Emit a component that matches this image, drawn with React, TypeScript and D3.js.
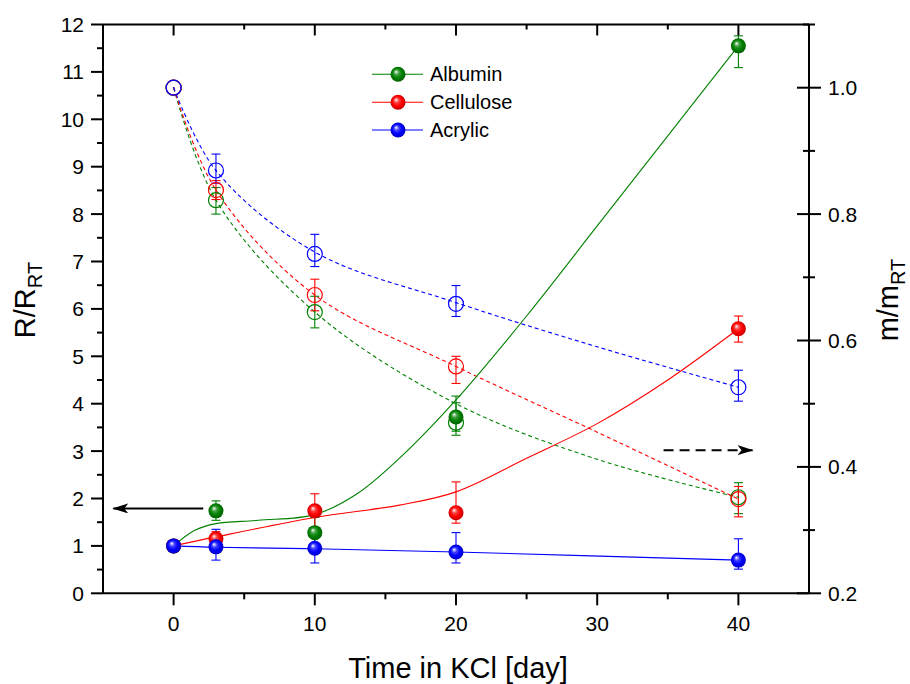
import React from "react";
import * as d3 from "d3";

// ---------- data ----------
const days = [0, 3, 10, 20, 40];
const seriesNames = ["Albumin", "Cellulose", "Acrylic"];
const seriesColors = ["#008000", "#ff0000", "#0000ff"];

// R/R_RT (left axis, filled spheres)
const albuminR = [1.0, 1.74, 1.28, 3.72, 11.55];
const albuminRLo = [0, 0.2, 0.32, 0.3, 0.46];
const albuminRHi = [0, 0.21, 0.32, 0.3, 0.21];
const celluloseR = [1.0, 1.15, 1.74, 1.7, 5.58];
const celluloseRLo = [0, 0.15, 0.36, 0.22, 0.28];
const celluloseRHi = [0, 0.15, 0.36, 0.65, 0.27];
const acrylicR = [1.0, 0.98, 0.95, 0.87, 0.7];
const acrylicRLo = [0, 0.28, 0.31, 0.23, 0.19];
const acrylicRHi = [0, 0.37, 0.35, 0.41, 0.45];

// m/m_RT (right axis, open circles)
const albuminM = [1.0, 0.822, 0.645, 0.47, 0.352];
const albuminMLo = [0, 0.022, 0.025, 0.02, 0.026];
const albuminMHi = [0, 0.02, 0.025, 0.042, 0.023];
const celluloseM = [1.0, 0.838, 0.672, 0.559, 0.349];
const celluloseMLo = [0, 0.015, 0.025, 0.027, 0.028];
const celluloseMHi = [0, 0.015, 0.025, 0.016, 0.02];
const acrylicM = [1.0, 0.869, 0.737, 0.658, 0.526];
const acrylicMLo = [0, 0.02, 0.02, 0.02, 0.022];
const acrylicMHi = [0, 0.026, 0.031, 0.029, 0.027];

// fitted curves: [day, value]
const albuminRFit: [number, number][] = [[0, 1.0], [1.5, 1.33], [3, 1.47], [6, 1.54], [10, 1.66], [13, 2.1], [16, 2.85], [20, 4.08], [25, 5.85], [30, 7.75], [35, 9.65], [40, 11.55]];
const celluloseRFit: [number, number][] = [[0, 1.0], [3, 1.19], [10, 1.6], [16, 1.86], [20, 2.14], [25, 2.85], [30, 3.58], [35, 4.5], [40, 5.58]];
const acrylicRFit: [number, number][] = [[0, 1.0], [3, 0.97], [10, 0.94], [20, 0.87], [40, 0.7]];
const albuminMFit: [number, number][] = [[0, 1.0], [3, 0.822], [10, 0.645], [20, 0.5], [30, 0.412], [40, 0.352]];
const celluloseMFit: [number, number][] = [[0, 1.0], [3, 0.838], [10, 0.672], [20, 0.559], [30, 0.455], [40, 0.349]];
const acrylicMFit: [number, number][] = [[0, 1.0], [3, 0.869], [10, 0.74], [20, 0.66], [30, 0.59], [40, 0.526]];

const xTicks = [0, 10, 20, 30, 40];
const xMinorTicks = [5, 15, 25, 35];
const yLeftTicks = [0, 1, 2, 3, 4, 5, 6, 7, 8, 9, 10, 11, 12];
const yRightTicks = [0.2, 0.4, 0.6, 0.8, 1.0];
const yRightMinor = [0.3, 0.5, 0.7, 0.9, 1.1];

// annotation arrows (data coords): [dayFrom, dayTo, value on left axis]
const leftArrow = [2.1, -4.27, 1.79];
const rightArrow = [34.7, 41.0, 3.02];

const xLabel = "Time in KCl [day]";
const FONT = "'Liberation Sans', Arial, sans-serif";

export default function App() {
  const W = 910, H = 684;
  const x = d3.scaleLinear().domain([-5, 45]).range([103, 809]);
  const yL = d3.scaleLinear().domain([0, 12]).range([593.3, 24.5]);
  const yR = d3.scaleLinear().domain([0.2, 1.1]).range([593.3, 24.5]);
  const [x0, x1] = x.range();
  const [yb, yt] = yL.range();

  const curve = d3.curveCatmullRom.alpha(0.5);
  const lineL = d3.line<[number, number]>().x(d => x(d[0])).y(d => yL(d[1])).curve(curve);
  const lineR = d3.line<[number, number]>().x(d => x(d[0])).y(d => yR(d[1])).curve(curve);

  const filled = [
    { v: albuminR, lo: albuminRLo, hi: albuminRHi, fit: albuminRFit },
    { v: celluloseR, lo: celluloseRLo, hi: celluloseRHi, fit: celluloseRFit },
    { v: acrylicR, lo: acrylicRLo, hi: acrylicRHi, fit: acrylicRFit },
  ];
  const open = [
    { v: albuminM, lo: albuminMLo, hi: albuminMHi, fit: albuminMFit },
    { v: celluloseM, lo: celluloseMLo, hi: celluloseMHi, fit: celluloseMFit },
    { v: acrylicM, lo: acrylicMLo, hi: acrylicMHi, fit: acrylicMFit },
  ];

  const R = 7.5;
  const capW = 4.5;
  const errBar = (cx: number, ya: number, yb2: number, color: string, key: string) => (
    <g key={key} stroke={color} strokeWidth={1.1}>
      <line x1={cx} x2={cx} y1={ya} y2={yb2} />
      <line x1={cx - capW} x2={cx + capW} y1={ya} y2={ya} />
      <line x1={cx - capW} x2={cx + capW} y1={yb2} y2={yb2} />
    </g>
  );

  const legendX0 = 372, legendX1 = 423, legendMx = 398, legendTx = 430;
  const legendY = [74.3, 102.3, 130];

  return (
    <svg width={W} height={H} style={{ position: "absolute", left: 0, top: 0, background: "#fff" }} fontFamily={FONT}>
      <defs>
        {seriesColors.map((c, i) => (
          <radialGradient key={i} id={`sph${i}`} cx="0.5" cy="0.5" r="0.55" fx="0.36" fy="0.32">
            <stop offset="0%" stopColor="#ffffff" />
            <stop offset="30%" stopColor={d3.interpolateRgb("#ffffff", c)(0.75)} />
            <stop offset="60%" stopColor={c} />
            <stop offset="100%" stopColor={d3.color(c)!.darker(0.9).formatHex()} />
          </radialGradient>
        ))}
        <marker id="ahead" viewBox="0 0 16 10" refX="15" refY="5" markerWidth="16" markerHeight="10" markerUnits="userSpaceOnUse" orient="auto">
          <path d="M0,0 L16,5 L0,10 L4,5 Z" fill="#000" />
        </marker>
      </defs>

      {/* curves */}
      {open.map((s, i) => (
        <path key={`om${i}`} d={lineR(s.fit) || ""} fill="none" stroke={seriesColors[i]} strokeWidth={1.1} strokeDasharray="4,3" />
      ))}
      {filled.map((s, i) => (
        <path key={`fl${i}`} d={lineL(s.fit) || ""} fill="none" stroke={seriesColors[i]} strokeWidth={1.1} />
      ))}

      {/* error bars */}
      {open.map((s, i) => days.map((d, j) => s.lo[j] + s.hi[j] > 0 ?
        errBar(x(d), yR(s.v[j] + s.hi[j]), yR(s.v[j] - s.lo[j]), seriesColors[i], `oe${i}-${j}`) : null))}
      {filled.map((s, i) => days.map((d, j) => s.lo[j] + s.hi[j] > 0 ?
        errBar(x(d), yL(s.v[j] + s.hi[j]), yL(s.v[j] - s.lo[j]), seriesColors[i], `fe${i}-${j}`) : null))}

      {/* open markers */}
      {open.map((s, i) => days.map((d, j) => (
        <g key={`om${i}-${j}`}>
          <circle cx={x(d)} cy={yR(s.v[j])} r={R} fill="none" stroke={seriesColors[i]} strokeWidth={1.2} />
          <circle cx={x(d)} cy={yR(s.v[j])} r={0.7} fill={seriesColors[i]} />
        </g>
      )))}
      {/* filled markers */}
      {filled.map((s, i) => days.map((d, j) => (
        <circle key={`fm${i}-${j}`} cx={x(d)} cy={yL(s.v[j])} r={R} fill={`url(#sph${i})`} />
      )))}

      {/* arrows */}
      <line x1={x(leftArrow[0])} x2={x(leftArrow[1])} y1={yL(leftArrow[2])} y2={yL(leftArrow[2])} stroke="#000" strokeWidth={2} markerEnd="url(#ahead)" />
      <line x1={x(rightArrow[0])} x2={x(rightArrow[1])} y1={yL(rightArrow[2])} y2={yL(rightArrow[2])} stroke="#000" strokeWidth={2} strokeDasharray="10,6" markerEnd="url(#ahead)" />

      {/* axes frame */}
      <g stroke="#000" strokeWidth={2} fill="none">
        <line x1={x0} x2={x1} y1={yb} y2={yb} />
        <line x1={x0} x2={x1} y1={yt} y2={yt} />
        <line x1={x0} x2={x0} y1={yb} y2={yt} />
        <line x1={x1} x2={x1} y1={yb} y2={yt} />
        {xTicks.map(t => <line key={`bx${t}`} x1={x(t)} x2={x(t)} y1={yb} y2={yb + 12} />)}
        {xMinorTicks.map(t => <line key={`bm${t}`} x1={x(t)} x2={x(t)} y1={yb} y2={yb + 6} />)}
        {xTicks.map(t => <line key={`tx${t}`} x1={x(t)} x2={x(t)} y1={yt} y2={yt + 11} />)}
        {xMinorTicks.map(t => <line key={`tm${t}`} x1={x(t)} x2={x(t)} y1={yt} y2={yt + 5} />)}
        {yLeftTicks.map(t => <line key={`ly${t}`} x1={x0 - 12} x2={x0} y1={yL(t)} y2={yL(t)} />)}
        {yLeftTicks.slice(0, -1).map(t => <line key={`lm${t}`} x1={x0 - 6} x2={x0} y1={yL(t + 0.5)} y2={yL(t + 0.5)} />)}
        {yRightTicks.map(t => <line key={`ry${t}`} x1={x1 - 12} x2={x1 + 12} y1={yR(t)} y2={yR(t)} />)}
        {yRightMinor.map(t => <line key={`rm${t}`} x1={x1 - 6} x2={x1 + 6} y1={yR(t)} y2={yR(t)} />)}
      </g>

      {/* tick labels */}
      <g fontSize={21} fill="#000">
        {xTicks.map(t => <text key={`bxl${t}`} x={x(t)} y={631} textAnchor="middle">{t}</text>)}
        {yLeftTicks.map(t => <text key={`lyl${t}`} x={84} y={yL(t) + 7.5} textAnchor="end">{t}</text>)}
        {yRightTicks.map(t => <text key={`ryl${t}`} x={828} y={yR(t) + 7.5} textAnchor="start">{t.toFixed(1)}</text>)}
      </g>

      {/* axis titles */}
      <text x={458} y={678} fontSize={29} textAnchor="middle" fill="#000">{xLabel}</text>
      <text transform="translate(35,300) rotate(-90)" fontSize={29} textAnchor="middle" fill="#000">
        R/R<tspan fontSize={20} dy={7}>RT</tspan>
      </text>
      <text transform="translate(898,300) rotate(-90)" fontSize={29} textAnchor="middle" fill="#000">
        m/m<tspan fontSize={20} dy={7}>RT</tspan>
      </text>

      {/* legend */}
      {seriesNames.map((n, i) => (
        <g key={`lg${i}`}>
          <line x1={legendX0} x2={legendX1} y1={legendY[i]} y2={legendY[i]} stroke={seriesColors[i]} strokeWidth={1.1} />
          <circle cx={legendMx} cy={legendY[i]} r={R} fill={`url(#sph${i})`} />
          <text x={legendTx} y={legendY[i] + 7} fontSize={20} fill="#000">{n}</text>
        </g>
      ))}
    </svg>
  );
}
